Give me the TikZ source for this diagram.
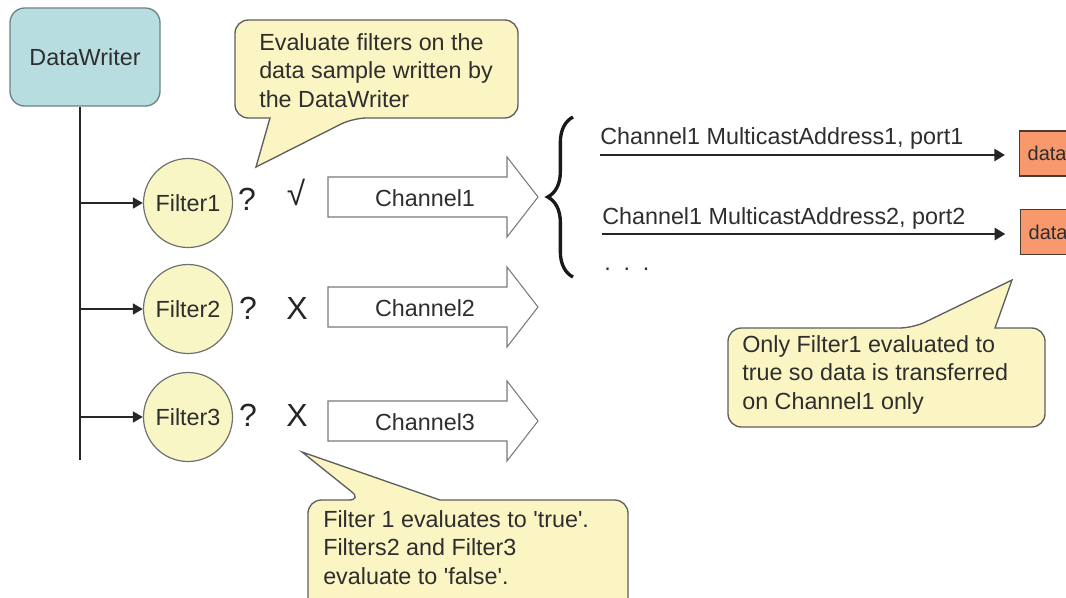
\documentclass[tikz,border=0pt]{standalone}
\usepackage{fontspec}
\setmainfont{Liberation Sans}
\usetikzlibrary{arrows.meta,decorations.pathreplacing}
\definecolor{dwfill}{HTML}{B8DDE1}
\definecolor{dwline}{HTML}{6F8284}
\definecolor{filfill}{HTML}{F9F6C6}
\definecolor{filline}{HTML}{707070}
\definecolor{calfill}{HTML}{FAF5C3}
\definecolor{calline}{HTML}{5E5E5E}
\definecolor{datafill}{HTML}{F7996C}
\definecolor{dataline}{HTML}{4A3A30}
\definecolor{txt}{HTML}{2E2E2E}
\definecolor{chline}{HTML}{7A7A7A}
\begin{document}
\begin{tikzpicture}[x=0.75pt,y=-0.75pt,
  font=\fontsize{17.5}{21.5}\selectfont, text=txt,
  dwbox/.style={draw=dwline, line width=1pt, fill=dwfill, rounded corners=11pt,
    minimum width=112.5pt, minimum height=73.5pt},
  filt/.style={circle, draw=filline, line width=0.9pt, fill=filfill,
    minimum size=66.75pt, inner sep=0pt},
  callout/.style={draw=calline, line width=1pt, fill=calfill},
  trunk/.style={line width=2pt, draw=black!85},
  branch/.style={line width=2pt, draw=black!85, -{Triangle[length=7.5pt,width=8pt]}},
  mcast/.style={line width=2pt, draw=black!85, -{Triangle[length=8pt,width=9pt]}},
  chan/.style={draw=chline, line width=0.8pt, fill=white},
  lbl/.style={inner sep=0pt},
  databox/.style={draw=dataline, line width=1pt, fill=datafill, anchor=west,
    text width=50pt, align=left, inner xsep=6pt, minimum height=33.75pt,
    font=\fontsize{15}{15}\selectfont},
  sym/.style={inner sep=0pt, text=black!85, font=\fontsize{24}{24}\selectfont},
]
\useasboundingbox (0,0) rectangle (1066,597);
\clip (0,0) rectangle (1066,597);

% DataWriter and trunk
\node[dwbox] (dw) at (85,57) {DataWriter};
\coordinate (tb) at (80,460);
\draw[trunk] (dw.south -| tb) -- (tb);

% Filters
\node[filt] (f1) at (188,203) {Filter1};
\node[filt] (f2) at (188,309) {Filter2};
\node[filt] (f3) at (188,417) {Filter3};
\coordinate (b1) at (80,203);
\coordinate (b2) at (80,309);
\coordinate (b3) at (80,417);
\draw[branch] (b1) -- (f1.west);
\draw[branch] (b2) -- (f2.west);
\draw[branch] (b3) -- (f3.west);

% ? and marks
\node[sym] (q1) at (247,199) {?};
\node[sym] (q2) at (248,308) {?};
\node[sym] (q3) at (248,415) {?};
\node[sym, font=\fontsize{25}{25}\selectfont] (ok) at (296,192) {√};
\node[sym] (x2) at (297,308) {X};
\node[sym] (x3) at (297,415) {X};

% Channel arrows
\foreach \y/\n in {197/1, 307/2, 421/3}{
  \draw[chan] (328,{\y-20}) -- (507,{\y-20}) -- (507,{\y-40}) -- (538,\y)
    -- (507,{\y+40}) -- (507,{\y+20}) -- (328,{\y+20}) -- cycle;
  \node[lbl, anchor=base] (ch\n) at (425,{\y+9}) {Channel\n};
}

% Brace
\coordinate (br1) at (573,277);
\coordinate (br2) at (573,117);
\draw[line width=2.5pt, draw=black!90, decorate, decoration={brace, amplitude=19pt}] (br1) -- (br2);

% Multicast arrows and data boxes
\node[databox] (d1) at (1019,153.5) {data};
\node[databox] (d2) at (1020,232) {data};
\coordinate (m1) at (600,155);
\coordinate (m2) at (602,234);
\draw[mcast, shorten >=10.5pt] (m1) -- (d1.west |- m1);
\draw[mcast, shorten >=11pt] (m2) -- (d2.west |- m2);
\node[lbl, anchor=base west] (l1) at (600,144) {Channel1 MulticastAddress1, port1};
\node[lbl, anchor=base west] (l2) at (602,224) {Channel1 MulticastAddress2, port2};
\node[lbl, anchor=base west] (dots) at (604,270) {.\hspace{9.6pt}.\hspace{9.6pt}.};

% Callout 1
\draw[callout, rounded corners=10pt] (235,70) -- (235,20) -- (518,20) -- (518,118) -- (353,118)
  [sharp corners] -- (256,167) -- (270,118) [rounded corners=10pt] -- (235,118) -- cycle;
\node[lbl, anchor=north west, align=left] (c1) at (259,33)
  {Evaluate filters on the\\data sample written by\\the DataWriter};

% Callout 2
\draw[callout, rounded corners=10pt] (308,560) -- (308,500) -- (362,500)
  [sharp corners] -- (302,452) -- (440,500) [rounded corners=10pt] -- (628,500)
  -- (628,640) -- (308,640) -- cycle;
\node[lbl, anchor=north west, align=left] (c2) at (323,510)
  {Filter 1 evaluates to \textquotesingle true\textquotesingle.\\Filters2 and Filter3\\evaluate to \textquotesingle false\textquotesingle.};

% Callout 3
\draw[callout, rounded corners=10pt] (728,380) -- (728,328) -- (913,328)
  [sharp corners] -- (1012,280) -- (995,328) [rounded corners=10pt] -- (1045,328)
  -- (1045,427) -- (728,427) -- cycle;
\node[lbl, anchor=north west, align=left] (c3) at (742,335)
  {Only Filter1 evaluated to\\true so data is transferred\\on Channel1 only};
\end{tikzpicture}
\end{document}
